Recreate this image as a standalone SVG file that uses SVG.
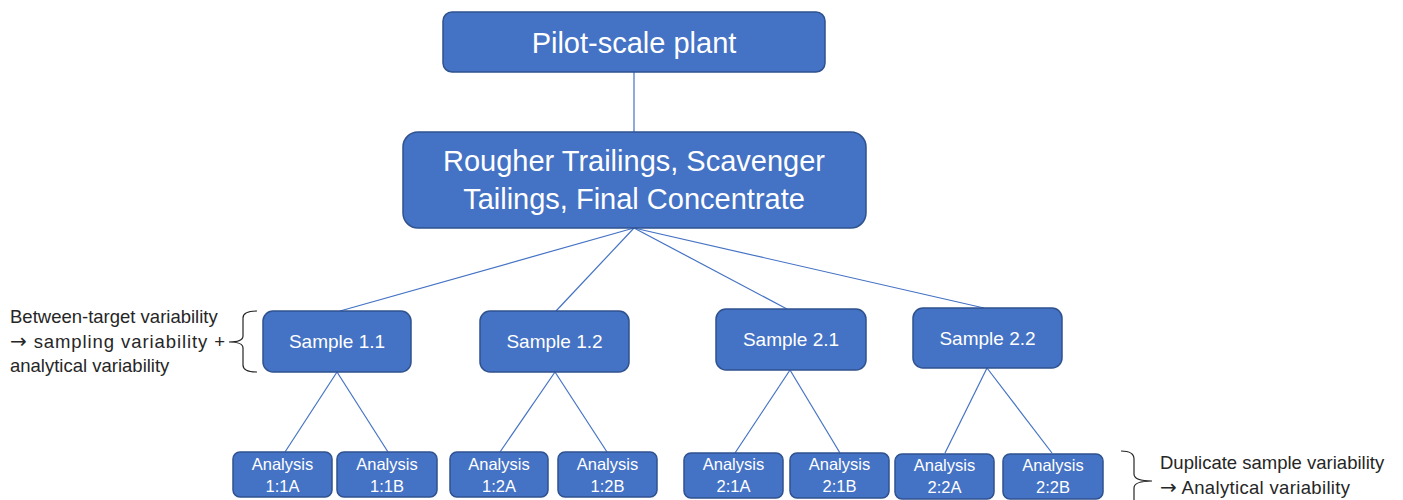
<svg xmlns="http://www.w3.org/2000/svg" width="1403" height="500" viewBox="0 0 1403 500">
<style>
.box{fill:#4472C4;stroke:#2F528F;stroke-width:1.5}
.lbl{fill:#fff;font-family:"Liberation Sans",Arial,sans-serif;text-anchor:middle}
.big{font-size:29px}
.smp{font-size:19px}
.ana{font-size:16.5px}
.note{fill:#262626;font-family:"Liberation Sans",Arial,sans-serif;font-size:18.5px}
.arr{font-family:"DejaVu Sans",sans-serif;font-size:20px}
.con{stroke:#4472C4;stroke-width:1.2;fill:none}
.brace{stroke:#262626;stroke-width:1.2;fill:none}
</style>
<rect width="1403" height="500" fill="#fff"/>
<g id="connectors">
<line class="con" x1="634" y1="72" x2="634" y2="132"/>
<line class="con" x1="634" y1="228" x2="340" y2="311"/>
<line class="con" x1="634" y1="228" x2="556" y2="311"/>
<line class="con" x1="634" y1="228" x2="787" y2="309"/>
<line class="con" x1="634" y1="228" x2="984" y2="308"/>
<line class="con" x1="337" y1="372" x2="285" y2="452"/>
<line class="con" x1="337" y1="372" x2="388" y2="452"/>
<line class="con" x1="555" y1="372" x2="500" y2="452"/>
<line class="con" x1="555" y1="372" x2="607" y2="452"/>
<line class="con" x1="790" y1="370" x2="735" y2="453"/>
<line class="con" x1="790" y1="370" x2="840" y2="453"/>
<line class="con" x1="987" y1="368" x2="945" y2="453"/>
<line class="con" x1="987" y1="368" x2="1052" y2="453"/>
</g>
<g id="pilot"><rect class="box" x="443" y="12" width="382" height="60" rx="9"/><text class="lbl big" x="634" y="53">Pilot-scale plant</text></g>
<g id="streams"><rect class="box" x="403" y="132" width="463" height="96" rx="15"/><text class="lbl big" x="634" y="171">Rougher Trailings, Scavenger</text><text class="lbl big" x="634" y="209">Tailings, Final Concentrate</text></g>
<g id="s11"><rect class="box" x="263" y="311" width="148" height="61" rx="10"/><text class="lbl smp" x="337" y="348">Sample 1.1</text></g>
<g id="s12"><rect class="box" x="480" y="311" width="149" height="61" rx="10"/><text class="lbl smp" x="554.5" y="348">Sample 1.2</text></g>
<g id="s21"><rect class="box" x="716" y="309" width="150" height="61" rx="10"/><text class="lbl smp" x="791" y="346">Sample 2.1</text></g>
<g id="s22"><rect class="box" x="913" y="308" width="149" height="60" rx="10"/><text class="lbl smp" x="987.5" y="345">Sample 2.2</text></g>
<g id="a11a"><rect class="box" x="233" y="452" width="99" height="45" rx="7"/><text class="lbl ana" x="282.5" y="470">Analysis</text><text class="lbl ana" x="282.5" y="492">1:1A</text></g>
<g id="a11b"><rect class="box" x="337" y="452" width="100" height="45" rx="7"/><text class="lbl ana" x="387" y="470">Analysis</text><text class="lbl ana" x="387" y="492">1:1B</text></g>
<g id="a12a"><rect class="box" x="450" y="452" width="98" height="45" rx="7"/><text class="lbl ana" x="499" y="470">Analysis</text><text class="lbl ana" x="499" y="492">1:2A</text></g>
<g id="a12b"><rect class="box" x="558" y="452" width="99" height="45" rx="7"/><text class="lbl ana" x="607.5" y="470">Analysis</text><text class="lbl ana" x="607.5" y="492">1:2B</text></g>
<g id="a21a"><rect class="box" x="684" y="453" width="99" height="45" rx="7"/><text class="lbl ana" x="733.5" y="470">Analysis</text><text class="lbl ana" x="733.5" y="492">2:1A</text></g>
<g id="a21b"><rect class="box" x="790" y="453" width="99" height="45" rx="7"/><text class="lbl ana" x="839.5" y="470">Analysis</text><text class="lbl ana" x="839.5" y="492">2:1B</text></g>
<g id="a22a"><rect class="box" x="895" y="454" width="99" height="45" rx="7"/><text class="lbl ana" x="944.5" y="471">Analysis</text><text class="lbl ana" x="944.5" y="493">2:2A</text></g>
<g id="a22b"><rect class="box" x="1003" y="454" width="100" height="45" rx="7"/><text class="lbl ana" x="1053" y="471">Analysis</text><text class="lbl ana" x="1053" y="493">2:2B</text></g>
<g id="note-left">
<path class="brace" d="M257,311 Q243,311 243,318 L243,336 Q243,342 229,342 Q243,342 243,348 L243,365 Q243,372 257,372"/>
<text class="note" x="10" y="323">Between-target variability</text>
<text class="note" x="10" y="348" textLength="215"><tspan class="arr">→</tspan> sampling variability +</text>
<text class="note" x="10" y="372">analytical variability</text>
</g>
<g id="note-right">
<path class="brace" d="M1121,451 Q1134,451 1134,459 L1134,474 Q1134,481 1152,481 Q1134,481 1134,488 L1134,505"/>
<text class="note" x="1160" y="469">Duplicate sample variability</text>
<text class="note" x="1160" y="494" textLength="190"><tspan class="arr">→</tspan> Analytical variability</text>
</g>
</svg>
